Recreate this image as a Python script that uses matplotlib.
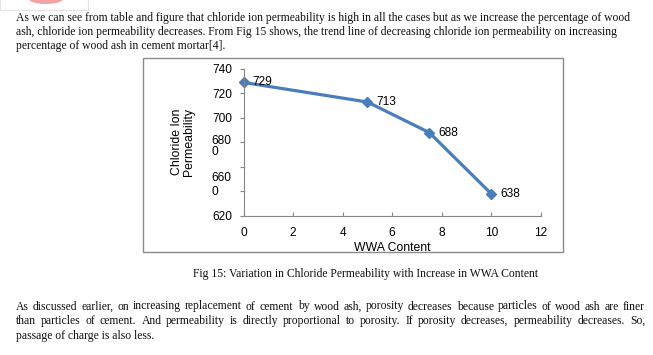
import matplotlib
matplotlib.use("Agg")
import matplotlib.pyplot as plt
from matplotlib.patches import Rectangle, Ellipse

# ---------------- data ----------------
wwa_content = [0, 5, 7.5, 10]
permeability = [729, 713, 688, 638]
x_ticks = [0, 2, 4, 6, 8, 10, 12]
y_ticks = [620, 640, 660, 680, 700, 720, 740]
y_tick_labels = ["620", "", "", "", "700", "720", "740"]
# wrapped y labels as they appear in the reference: (text, centre value, line spacing)
wrapped_y_labels = [("680\n0", 676.6, 0.8), ("660\n0", 644.9, 1.23)]

para1 = [
    "As we can see from table and figure that chloride ion permeability is high in all the cases but as we increase the percentage of wood",
    "ash, chloride ion permeability decreases. From Fig 15 shows, the trend line of decreasing chloride ion permeability on increasing",
    "percentage of wood ash in cement mortar[4].",
]
caption = "Fig 15: Variation in Chloride Permeability with Increase in WWA Content"
para2 = [
    "As discussed earlier, on increasing replacement of cement by wood ash, porosity decreases because particles of wood ash are finer",
    "than particles of cement. And permeability is directly proportional to porosity. If porosity decreases, permeability decreases. So,",
    "passage of charge is also less.",
]

W, H = 653, 355
fig = plt.figure(figsize=(W / 100, H / 100), dpi=100)
fig.patch.set_facecolor("white")
renderer = fig.canvas.get_renderer()

SERIF = "Liberation Serif"
SANS = "Liberation Sans"
TEXT_LEFT, TEXT_RIGHT = 16, 645
FIRST_LINE_RIGHT = 633
CHART_FS = 8.6

def px(x, y):
    return x / W, 1 - y / H

# choose body font size so that the first line has the reference's width
probe = fig.text(0, 0, para1[0], fontsize=10, family=SERIF)
w10 = probe.get_window_extent(renderer).width
probe.remove()
body_fs = 10 * (FIRST_LINE_RIGHT - TEXT_LEFT) / w10

def draw_line(text, y, justify=False):
    # y is the baseline in pixels
    if not justify:
        fig.text(*px(TEXT_LEFT, y), text, fontsize=body_fs, family=SERIF,
                 va="baseline", ha="left", color="#111111")
        return
    words = text.split(" ")
    objs = [fig.text(0, 0, w, fontsize=body_fs, family=SERIF, va="baseline",
                     ha="left", color="#111111") for w in words]
    widths = [o.get_window_extent(renderer).width for o in objs]
    gap = (TEXT_RIGHT - TEXT_LEFT - sum(widths)) / max(len(words) - 1, 1)
    x = TEXT_LEFT
    for o, w in zip(objs, widths):
        o.set_position(px(round(x), y))
        x += w + gap

# top logo remnant
fig.patches.append(Rectangle(px(0, 10), 88 / W, 11 / H, transform=fig.transFigure,
                             facecolor="white", edgecolor="#e4e4e4", lw=0.8, zorder=-2))
fig.patches.append(Ellipse(px(46, -1), 34 / W, 10 / H, transform=fig.transFigure,
                           facecolor="#f2a3a3", edgecolor="none", zorder=-1))

for i, line in enumerate(para1):
    draw_line(line, 21 + 14 * i, justify=False)

fig.text(*px(366, 276.5), caption, fontsize=body_fs, family=SERIF,
         ha="center", va="baseline", color="#111111")

for i, line in enumerate(para2):
    draw_line(line, 309.5 + 14.5 * i, justify=(i < len(para2) - 1))

# chart frame
fig.patches.append(Rectangle(px(143, 252), 420 / W, 194 / H, transform=fig.transFigure,
                             facecolor="none", edgecolor="#8a8a8a", lw=1.0, zorder=-3))

# axes
ax_l, ax_r, ax_t, ax_b = 243.6, 540.7, 69.0, 215.7
ax = fig.add_axes([ax_l / W, 1 - ax_b / H, (ax_r - ax_l) / W, (ax_b - ax_t) / H])
ax.set_zorder(5)
ax.set_facecolor("none")
color = "#4A7EBB"
ax.plot(wwa_content, permeability, color=color, lw=2.3, marker="D", ms=5.5,
        markeredgecolor=color, markerfacecolor=color, clip_on=False)
for xv, yv in zip(wwa_content, permeability):
    ax.annotate(str(yv), (xv, yv), xytext=(6.5, 0), textcoords="offset points",
                ha="left", va="center", fontsize=CHART_FS, family=SANS, color="black")

ax.set_xlim(0, 12)
ax.set_ylim(620, 740)
ax.set_xticks(x_ticks)
ax.set_xticklabels([str(t) for t in x_ticks], family=SANS, fontsize=CHART_FS)
ax.set_yticks(y_ticks)
ax.set_yticklabels(y_tick_labels, family=SANS, fontsize=CHART_FS)
for lab, val, ls in wrapped_y_labels:
    ax.text(-0.041, val, lab, transform=ax.get_yaxis_transform(), ha="right",
            va="center", multialignment="left", fontsize=CHART_FS, family=SANS,
            linespacing=ls)

for s in ["top", "right"]:
    ax.spines[s].set_visible(False)
for s in ["left", "bottom"]:
    ax.spines[s].set_color("#868686")
    ax.spines[s].set_linewidth(0.8)
ax.tick_params(axis="y", direction="out", length=3, width=0.8, color="#868686", pad=5)
ax.tick_params(axis="x", direction="in", length=3, width=0.8, color="#868686", pad=8)

ax.set_xlabel("WWA Content", family=SANS, fontsize=CHART_FS + 0.2, labelpad=2)
fig.text(*px(183, 142), "Chloride Ion\nPermeability", rotation=90, family=SANS,
         fontsize=CHART_FS + 0.2, ha="center", va="center", linespacing=1.05)

fig.savefig("out.png", dpi=100, facecolor="white")
